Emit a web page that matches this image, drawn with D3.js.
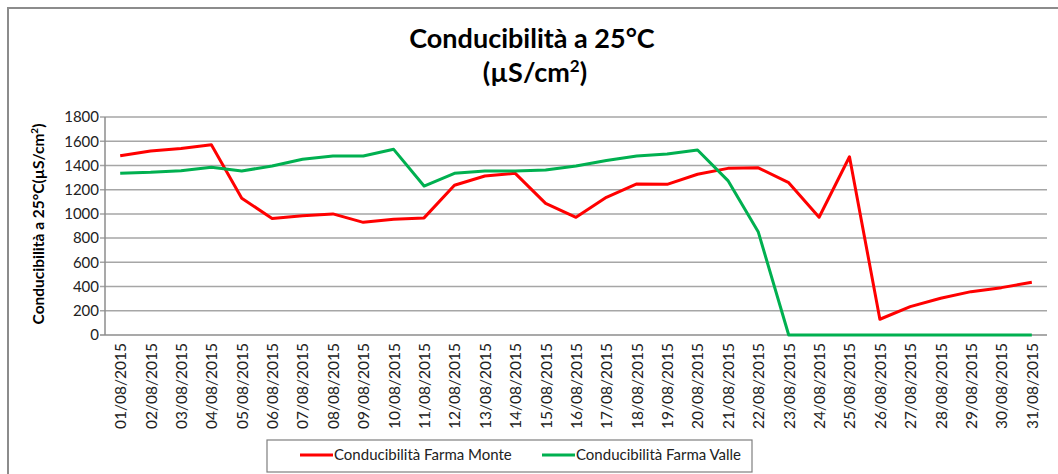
<!DOCTYPE html>
<html>
<head>
<meta charset="utf-8">
<script src="https://cdn.jsdelivr.net/npm/d3@7/dist/d3.min.js"></script>
<style>
  html, body { margin: 0; padding: 0; background: #fff; }
  svg { display: block; font-family: Lato, "Open Sans", sans-serif; }
</style>
</head>
<body>
<svg id="chart" width="1058" height="474"></svg>
<script>
// Daily dates of August 2015
const dates = [
  "01/08/2015","02/08/2015","03/08/2015","04/08/2015","05/08/2015","06/08/2015",
  "07/08/2015","08/08/2015","09/08/2015","10/08/2015","11/08/2015","12/08/2015",
  "13/08/2015","14/08/2015","15/08/2015","16/08/2015","17/08/2015","18/08/2015",
  "19/08/2015","20/08/2015","21/08/2015","22/08/2015","23/08/2015","24/08/2015",
  "25/08/2015","26/08/2015","27/08/2015","28/08/2015","29/08/2015","30/08/2015",
  "31/08/2015"
];

// Conductivity at 25°C (µS/cm²), upstream station
const monte = [
  1480, 1520, 1540, 1570, 1130, 962, 985, 1000, 930, 955,
  967, 1236, 1313, 1335, 1087, 972, 1137, 1247, 1244, 1327,
  1376, 1380, 1258, 972, 1472, 130, 234, 303, 358, 391,
  435
];

// Conductivity at 25°C (µS/cm²), downstream station
const valle = [
  1335, 1343, 1357, 1385, 1354, 1396, 1451, 1478, 1478, 1533,
  1230, 1335, 1354, 1354, 1362, 1396, 1440, 1478, 1495, 1528,
  1275, 850, 0, 0, 0, 0, 0, 0, 0, 0,
  0
];

const yTicks = [0, 200, 400, 600, 800, 1000, 1200, 1400, 1600, 1800];

const seriesNames = ["Conducibilità Farma Monte", "Conducibilità Farma Valle"];
const seriesColors = ["#ff0000", "#00b050"];

const svg = d3.select("#chart");

// outer chart frame (top and left edges)
svg.append("path")
  .attr("d", "M8,480 L8,8 L1070,8")
  .attr("fill", "none")
  .attr("stroke", "#8c8c8c")
  .attr("stroke-width", 2);

const plot = { left: 105, right: 1047, top: 117, bottom: 335 };

const x = d3.scalePoint()
  .domain(dates)
  .range([plot.left, plot.right])
  .padding(0.5);

const y = d3.scaleLinear()
  .domain([0, 1800])
  .range([plot.bottom, plot.top]);

// title
const title = svg.append("text")
  .attr("text-anchor", "middle")
  .attr("font-weight", "bold")
  .attr("font-size", 27)
  .attr("fill", "#000");
title.append("tspan").attr("x", 532).attr("y", 48).text("Conducibilità a 25°C");
const t2 = title.append("tspan").attr("x", 535).attr("y", 82);
t2.append("tspan").text("(µS/cm");
t2.append("tspan").attr("font-size", 17).attr("dy", -10).text("2");
t2.append("tspan").attr("dy", 10).text(")");

// gridlines
svg.append("g")
  .selectAll("line")
  .data(yTicks)
  .join("line")
  .attr("x1", plot.left - 5)
  .attr("x2", plot.right)
  .attr("y1", d => y(d))
  .attr("y2", d => y(d))
  .attr("stroke", d => d === 0 ? "#8c8c8c" : "#a6a6a6")
  .attr("stroke-width", 1.5);

// y axis line
svg.append("line")
  .attr("x1", plot.left).attr("x2", plot.left)
  .attr("y1", plot.top).attr("y2", plot.bottom)
  .attr("stroke", "#8c8c8c")
  .attr("stroke-width", 1.5);

// y tick labels
const yAxis = d3.axisLeft(y).tickValues(yTicks).tickFormat(d3.format("d")).tickSize(0).tickPadding(6);
const gy = svg.append("g")
  .attr("transform", `translate(${plot.left},0)`)
  .call(yAxis);
gy.select(".domain").remove();
gy.selectAll("text")
  .attr("font-family", "Lato, sans-serif")
  .attr("font-size", 15)
  .attr("fill", "#222");

// x tick labels, rotated
const xAxis = d3.axisBottom(x).tickSize(0).tickPadding(0);
const gx = svg.append("g")
  .attr("transform", `translate(0,${plot.bottom})`)
  .call(xAxis);
gx.select(".domain").remove();
gx.selectAll("text")
  .attr("font-family", "Lato, sans-serif")
  .attr("font-size", 15.5)
  .attr("fill", "#222")
  .attr("transform", "rotate(-90)")
  .attr("text-anchor", "end")
  .attr("x", -8)
  .attr("y", 0)
  .attr("dy", "0.35em");

// y axis title
const yt = svg.append("text")
  .attr("transform", "translate(44,224) rotate(-90)")
  .attr("text-anchor", "middle")
  .attr("font-weight", "bold")
  .attr("font-size", 15.5)
  .attr("fill", "#000");
yt.append("tspan").text("Conducibilità a 25°C(µS/cm");
yt.append("tspan").attr("font-size", 10).attr("dy", -6).text("2");
yt.append("tspan").attr("dy", 6).text(")");

// series lines
const line = d3.line()
  .x((d, i) => x(dates[i]))
  .y(d => y(d));

[monte, valle].forEach((vals, k) => {
  svg.append("path")
    .datum(vals)
    .attr("d", line)
    .attr("fill", "none")
    .attr("stroke", seriesColors[k])
    .attr("stroke-width", 3)
    .attr("stroke-linejoin", "round");
});

// legend
const legend = svg.append("g");
legend.append("rect")
  .attr("x", 267).attr("y", 440)
  .attr("width", 485).attr("height", 32)
  .attr("fill", "#fff")
  .attr("stroke", "#7f7f7f")
  .attr("stroke-width", 1.2);

const legendX = [300, 542];
seriesNames.forEach((name, k) => {
  legend.append("line")
    .attr("x1", legendX[k]).attr("x2", legendX[k] + 33)
    .attr("y1", 455).attr("y2", 455)
    .attr("stroke", seriesColors[k])
    .attr("stroke-width", 3);
  legend.append("text")
    .attr("x", legendX[k] + 34)
    .attr("y", 460)
    .attr("font-family", "Lato, sans-serif")
    .attr("font-size", 15)
    .attr("fill", "#222")
    .text(name);
});
</script>
</body>
</html>
